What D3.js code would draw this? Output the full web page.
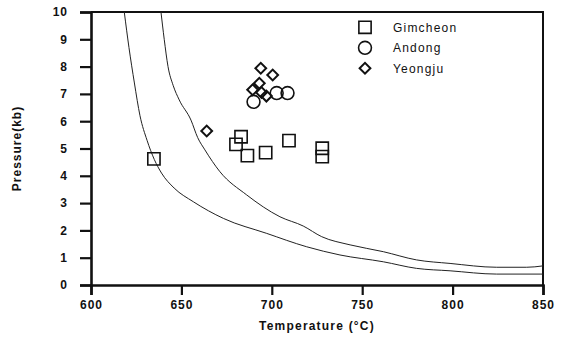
<!DOCTYPE html>
<html>
<head>
<meta charset="UTF-8">
<title>P-T plot</title>
<script src="https://d3js.org/d3.v7.min.js"></script>
<style>
  body { margin: 0; background: #fff; }
  text { font-family: "Liberation Sans", Arial, sans-serif; fill: #111; }
</style>
</head>
<body>
<div id="chart"></div>
<script>
// data: [temperature (C), pressure (kb)]
const gimcheon = [[634.8, 4.62], [683, 5.43], [680.2, 5.15], [686.5, 4.74], [696.6, 4.85], [709.5, 5.29], [727.9, 5.01], [727.9, 4.70]];
const andong = [[689.9, 6.71], [702.7, 7.03], [708.7, 7.03]];
const yeongju = [[664, 5.64], [693.9, 7.94], [700.5, 7.69], [693.1, 7.39], [689.4, 7.15], [694.3, 7.05], [697, 6.92]];
const curveLow = [[618.4, 10], [621, 8.7], [624, 7.4], [627.1, 6.2], [631, 5.3], [635, 4.6], [639, 4.1], [646, 3.55], [656.6, 3.05], [673.2, 2.44], [697.2, 1.89], [719.3, 1.4], [737.7, 1.1], [761.7, 0.85], [780, 0.61], [798.6, 0.52], [824.4, 0.4], [850, 0.4]];
const curveHigh = [[638.7, 10], [640.5, 9], [642.6, 8.0], [645.5, 7.3], [648.8, 6.78], [655.3, 6.04], [659, 5.4], [663, 4.95], [671.3, 4.15], [686.1, 3.3], [704.5, 2.5], [717.4, 2.16], [727.6, 1.77], [743.3, 1.47], [761.7, 1.22], [780, 0.92], [798.6, 0.79], [824.4, 0.65], [841, 0.65], [850, 0.7]];
const xTicks = [600, 650, 700, 750, 800, 850];
const yTicks = [0, 1, 2, 3, 4, 5, 6, 7, 8, 9, 10];
const legendNames = ["Gimcheon", "Andong", "Yeongju"];

const width = 563, height = 356;
const margin = {left: 91, right: 20, top: 12, bottom: 71};

const svg = d3.select("#chart").append("svg")
    .attr("width", width)
    .attr("height", height);

const x = d3.scaleLinear().domain([600, 850]).range([margin.left, width - margin.right]);
const y = d3.scaleLinear().domain([0, 10]).range([height - margin.bottom, margin.top]);

// frame (top and right)
svg.append("path")
    .attr("d", `M${x(600)},${y(10)}H${x(850)}V${y(0)}`)
    .attr("fill", "none").attr("stroke", "#111").attr("stroke-width", 2);

// curves
const line = d3.line().curve(d3.curveMonotoneX).x(d => x(d[0])).y(d => y(d[1]));
svg.selectAll("path.curve")
    .data([curveLow, curveHigh])
    .join("path")
    .attr("class", "curve")
    .attr("d", line)
    .attr("fill", "none")
    .attr("stroke", "#222")
    .attr("stroke-width", 1);

// axes
const xAxis = svg.append("g")
    .attr("transform", `translate(0,${y(0)})`)
    .call(d3.axisBottom(x).tickValues(xTicks).tickSize(10).tickPadding(5));
const yAxis = svg.append("g")
    .attr("transform", `translate(${x(600)},0)`)
    .call(d3.axisLeft(y).tickValues(yTicks).tickSize(11).tickPadding(12));
[xAxis, yAxis].forEach(g => {
    g.select(".domain").attr("stroke", "#111").attr("stroke-width", 2.6);
    g.selectAll(".tick line").attr("stroke", "#111").attr("stroke-width", 2.2);
    g.selectAll(".tick text")
        .attr("font-family", "Liberation Sans, Arial, sans-serif")
        .attr("font-size", 12)
        .attr("font-weight", "bold")
        .attr("letter-spacing", 1)
        .attr("fill", "#111");
});

// markers
const square = d3.symbol().type(d3.symbolSquare).size(150);
const circle = d3.symbol().type(d3.symbolCircle).size(130);
const diamond = d3.symbol().type(d3.symbolSquare).size(58);

svg.selectAll("path.gim").data(gimcheon).join("path")
    .attr("class", "gim")
    .attr("d", square)
    .attr("transform", d => `translate(${x(d[0])},${y(d[1])})`)
    .attr("fill", "none").attr("stroke", "#111").attr("stroke-width", 1.6);
svg.selectAll("path.and").data(andong).join("path")
    .attr("class", "and")
    .attr("d", circle)
    .attr("transform", d => `translate(${x(d[0])},${y(d[1])})`)
    .attr("fill", "none").attr("stroke", "#111").attr("stroke-width", 1.6);
svg.selectAll("path.yeo").data(yeongju).join("path")
    .attr("class", "yeo")
    .attr("d", diamond)
    .attr("transform", d => `translate(${x(d[0])},${y(d[1])})rotate(45)`)
    .attr("fill", "none").attr("stroke", "#111").attr("stroke-width", 2);

// legend
const symbols = [square, circle, diamond];
const legend = svg.selectAll("g.legend").data(legendNames).join("g")
    .attr("class", "legend")
    .attr("transform", (d, i) => `translate(365,${27.3 + i * 20.5})`);
legend.append("path")
    .attr("d", (d, i) => symbols[i]())
    .attr("transform", (d, i) => i === 2 ? "rotate(45)" : null)
    .attr("fill", "none").attr("stroke", "#111")
    .attr("stroke-width", (d, i) => i === 2 ? 2 : 1.6);
legend.append("text")
    .attr("x", 28)
    .attr("dy", "0.35em")
    .attr("font-size", 12)
    .attr("letter-spacing", 1.2)
    .text(d => d);

// axis titles
svg.append("text")
    .attr("x", x(725))
    .attr("y", 330)
    .attr("text-anchor", "middle")
    .attr("font-size", 12)
    .attr("font-weight", "bold")
    .attr("letter-spacing", 1.2)
    .text("Temperature (\u00B0C)");
svg.append("text")
    .attr("transform", `translate(21,${y(5)})rotate(-90)`)
    .attr("text-anchor", "middle")
    .attr("font-size", 12)
    .attr("font-weight", "bold")
    .attr("letter-spacing", 1)
    .text("Pressure(kb)");
</script>
</body>
</html>
